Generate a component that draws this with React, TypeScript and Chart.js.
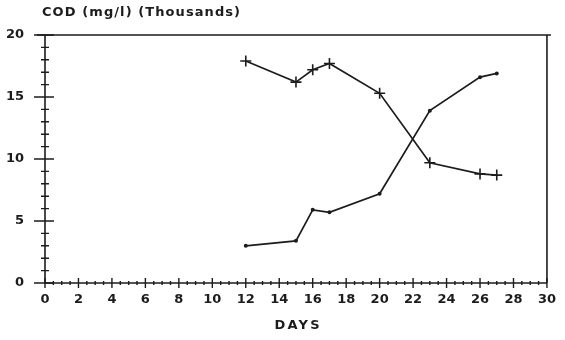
import React, { useEffect, useRef } from 'react';
import { Chart, registerables } from 'chart.js';

Chart.register(...registerables);

// ---- data ----
const days = [12, 15, 16, 17, 20, 23, 26, 27];
const risingSeries = [3.0, 3.4, 5.9, 5.7, 7.2, 13.9, 16.6, 16.9];
const fallingSeries = [17.9, 16.2, 17.2, 17.7, 15.3, 9.7, 8.8, 8.7];
const xRange = [0, 30];
const yRange = [0, 20];
const xMajorStep = 2;
const xMinorStep = 0.5;
const yMajorStep = 5;
const yMinorStep = 1;
const yAxisTitle = 'COD (mg/l) (Thousands)';
const xAxisTitle = 'DAYS';

const INK = '#1c1c1c';
const FONT = "'DejaVu Sans', 'Liberation Sans', sans-serif";

function drawSpaced(ctx: CanvasRenderingContext2D, text: string, x: number, y: number, targetWidth: number, align: 'left' | 'center') {
  (ctx as any).letterSpacing = '0px';
  const w = ctx.measureText(text).width;
  const sp = Math.max(0, (targetWidth - w) / Math.max(1, text.length - 1));
  (ctx as any).letterSpacing = sp.toFixed(2) + 'px';
  const total = w + sp * (text.length - 1);
  const startX = align === 'center' ? x - total / 2 : x;
  ctx.textAlign = 'left';
  ctx.fillText(text, startX, y);
  (ctx as any).letterSpacing = '0px';
}

const framePlugin = {
  id: 'frameAndTicks',
  afterDraw(chart: any) {
    const { ctx, chartArea, scales } = chart;
    const xs = scales.x;
    const ys = scales.y;
    const { left, right, top, bottom } = chartArea;
    ctx.save();
    ctx.strokeStyle = INK;
    ctx.lineWidth = 1.6;
    ctx.lineCap = 'butt';
    ctx.beginPath();
    ctx.moveTo(left, top);
    ctx.lineTo(left, bottom);
    ctx.lineTo(right, bottom);
    ctx.moveTo(left - 8, top);
    ctx.lineTo(right + 4, top);
    ctx.moveTo(right, top);
    ctx.lineTo(right, bottom);
    ctx.stroke();

    ctx.lineWidth = 1.4;
    ctx.beginPath();
    for (let v = yRange[0]; v <= yRange[1] + 1e-9; v += yMinorStep) {
      const y = ys.getPixelForValue(v);
      const major = Math.abs(v % yMajorStep) < 1e-9;
      const lo = major ? 11 : 4;
      const hi = major ? 9 : 4;
      ctx.moveTo(left - lo, y);
      ctx.lineTo(left + hi, y);
    }
    for (let v = xRange[0]; v <= xRange[1] + 1e-9; v += xMinorStep) {
      const x = xs.getPixelForValue(v);
      const major = Math.abs(v % xMajorStep) < 1e-9;
      const l = major ? 5 : 2;
      ctx.moveTo(x, bottom - l);
      ctx.lineTo(x, bottom + l);
    }
    ctx.stroke();

    ctx.fillStyle = INK;
    ctx.textBaseline = 'middle';
    ctx.font = `bold 13px ${FONT}`;
    drawSpaced(ctx, yAxisTitle, 42, 13, 198, 'left');
    ctx.font = `bold 13px ${FONT}`;
    drawSpaced(ctx, xAxisTitle, 297, 326, 45, 'center');
    ctx.restore();
  },
};

export default function App() {
  const ref = useRef<HTMLCanvasElement | null>(null);
  useEffect(() => {
    if (!ref.current) return;
    const chart = new Chart(ref.current, {
      type: 'line',
      data: {
        datasets: [
          {
            label: 'rising',
            data: days.map((d, i) => ({ x: d, y: risingSeries[i] })),
            borderColor: INK,
            backgroundColor: INK,
            borderWidth: 1.7,
            pointStyle: 'circle',
            pointRadius: 2,
            pointBorderWidth: 0,
            tension: 0,
          },
          {
            label: 'falling',
            data: days.map((d, i) => ({ x: d, y: fallingSeries[i] })),
            borderColor: INK,
            backgroundColor: INK,
            borderWidth: 1.7,
            pointStyle: 'cross',
            pointRadius: 5.5,
            pointBorderWidth: 1.6,
            tension: 0,
          },
        ],
      },
      options: {
        animation: false,
        responsive: false,
        layout: { padding: { top: 35, right: 10, left: 0, bottom: 0 } },
        plugins: { legend: { display: false }, tooltip: { enabled: false }, title: { display: false } },
        scales: {
          x: {
            type: 'linear',
            min: xRange[0],
            max: xRange[1],
            grid: { display: false, drawTicks: false },
            border: { display: false },
            ticks: { stepSize: xMajorStep, padding: 9, color: INK, font: { family: FONT, size: 13, weight: 'bold' }, maxRotation: 0 },
            afterFit: (s: any) => { s.height = 57; },
          },
          y: {
            type: 'linear',
            min: yRange[0],
            max: yRange[1],
            grid: { display: false, drawTicks: false },
            border: { display: false },
            ticks: { stepSize: yMajorStep, padding: 21, color: INK, font: { family: FONT, size: 13, weight: 'bold' } },
            afterFit: (s: any) => { s.width = 45; },
          },
        },
      },
      plugins: [framePlugin],
    });
    return () => chart.destroy();
  }, []);
  return (
    <div style={{ position: 'fixed', left: 0, top: 0, width: 565, height: 340, background: '#fff' }}>
      <canvas ref={ref} width={565} height={340} />
    </div>
  );
}
